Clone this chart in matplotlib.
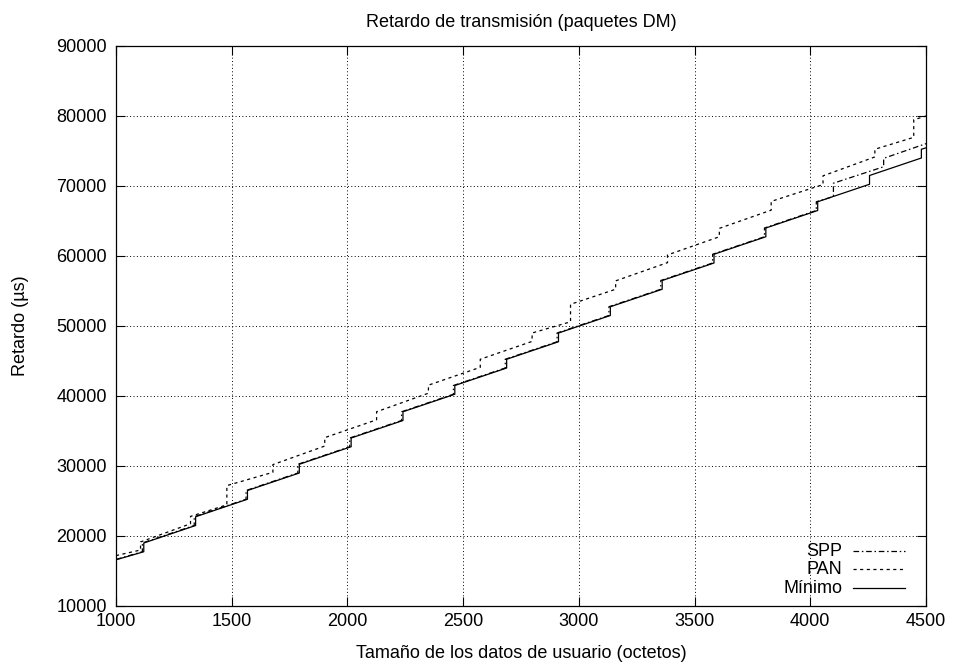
import matplotlib
matplotlib.use('Agg')
import matplotlib.pyplot as plt

plt.rcParams['font.family'] = ['Liberation Sans', 'DejaVu Sans']
plt.rcParams['font.size'] = 13

# Mínimo: saltos de la escalera (octetos) y retardo antes / después de cada salto (us)
min_inicio = (1000, 16600)
min_pasos = [1120, 1344, 1568, 1792, 2016, 2240, 2464, 2688, 2912, 3136, 3360, 3584, 3808, 4032, 4256, 4480]
min_antes = [17750, 21500, 25250, 29000, 32750, 36500, 40250, 44000, 47750, 51500, 55250, 59000, 62750, 66500, 70250, 74000]
min_despues = [19000, 22750, 26500, 30250, 34000, 37750, 41500, 45250, 49000, 52750, 56500, 60250, 64000, 67750, 71500, 75250]
min_fin = (4500, 75450)

# SPP
spp_inicio = (1000, 16650)
spp_pasos = [1114, 1338, 1562, 1786, 2010, 2234, 2458, 2682, 2906, 3130, 3354, 3578, 3802, 4026, 4100, 4317]
spp_antes = [17750, 21500, 25250, 29000, 32750, 36500, 40250, 44000, 47750, 51500, 55250, 59000, 62750, 66500, 68500, 72750]
spp_despues = [19000, 22750, 26500, 30250, 34000, 37750, 41500, 45250, 49000, 52750, 56500, 60250, 64000, 67750, 70400, 73950]
spp_fin = (4500, 76050)

# PAN
pan_inicio = (1000, 17200)
pan_pasos = [1106, 1322, 1479, 1678, 1902, 2126, 2350, 2574, 2798, 2964, 3159, 3383, 3607, 3831, 4055, 4279, 4447]
pan_antes = [18000, 21750, 24450, 29100, 32850, 36600, 40400, 44100, 47800, 50600, 55250, 59050, 62750, 66550, 70200, 74150, 76950]
pan_despues = [19150, 22800, 27200, 30200, 34050, 37750, 41550, 45250, 49000, 53100, 56450, 60150, 63950, 67800, 71450, 75250, 79450]
pan_fin = (4500, 80000)


def escalera(inicio, pasos, antes, despues, fin):
    xs = [inicio[0]]
    ys = [inicio[1]]
    for p, a, d in zip(pasos, antes, despues):
        xs += [p, p]
        ys += [a, d]
    xs.append(fin[0])
    ys.append(fin[1])
    return xs, ys


fig = plt.figure(figsize=(9.55, 6.66), dpi=100)
ax = fig.add_axes([116 / 955, 60 / 666, 810 / 955, 560 / 666])

estilo_spp = (0, (4.5, 2.2, 1.2, 2.2))
estilo_pan = (0, (2.5, 2.8))

x, y = escalera(spp_inicio, spp_pasos, spp_antes, spp_despues, spp_fin)
ax.plot(x, y, color='black', lw=0.9, linestyle=estilo_spp)
x, y = escalera(pan_inicio, pan_pasos, pan_antes, pan_despues, pan_fin)
ax.plot(x, y, color='black', lw=0.9, linestyle=estilo_pan)
x, y = escalera(min_inicio, min_pasos, min_antes, min_despues, min_fin)
ax.plot(x, y, color='black', lw=0.9)

ax.set_xlim(1000, 4500)
ax.set_ylim(10000, 90000)
ax.set_xticks(range(1000, 4501, 500))
ax.set_yticks(range(10000, 90001, 10000))
ax.tick_params(direction='in', length=6.5, width=0.8, top=True, right=True, labelsize=13)
ax.tick_params(axis='x', pad=5)
ax.tick_params(axis='y', pad=6.5)
ax.grid(True, color='black', lw=0.7, linestyle=(0, (1, 2.5)))
for s in ax.spines.values():
    s.set_linewidth(0.9)

ax.set_title('Retardo de transmisión (paquetes DM)', fontsize=13, pad=14)
ax.set_xlabel('Tamaño de los datos de usuario (octetos)', fontsize=13, labelpad=10.5)
ax.set_ylabel('Retardo (µs)', fontsize=13, labelpad=20)

# leyenda al estilo gnuplot
etiquetas = ['SPP', 'PAN', 'Mínimo']
estilos = [estilo_spp, estilo_pan, '-']
filas = [0.0982, 0.0652, 0.0321]
for etq, est, fy in zip(etiquetas, estilos, filas):
    ax.text(0.8963, fy, etq, transform=ax.transAxes, ha='right', va='center', fontsize=13)
    ax.plot([0.9099, 0.9741], [fy, fy], transform=ax.transAxes, color='black', lw=0.9, linestyle=est)

plt.savefig('out.png', dpi=100)
